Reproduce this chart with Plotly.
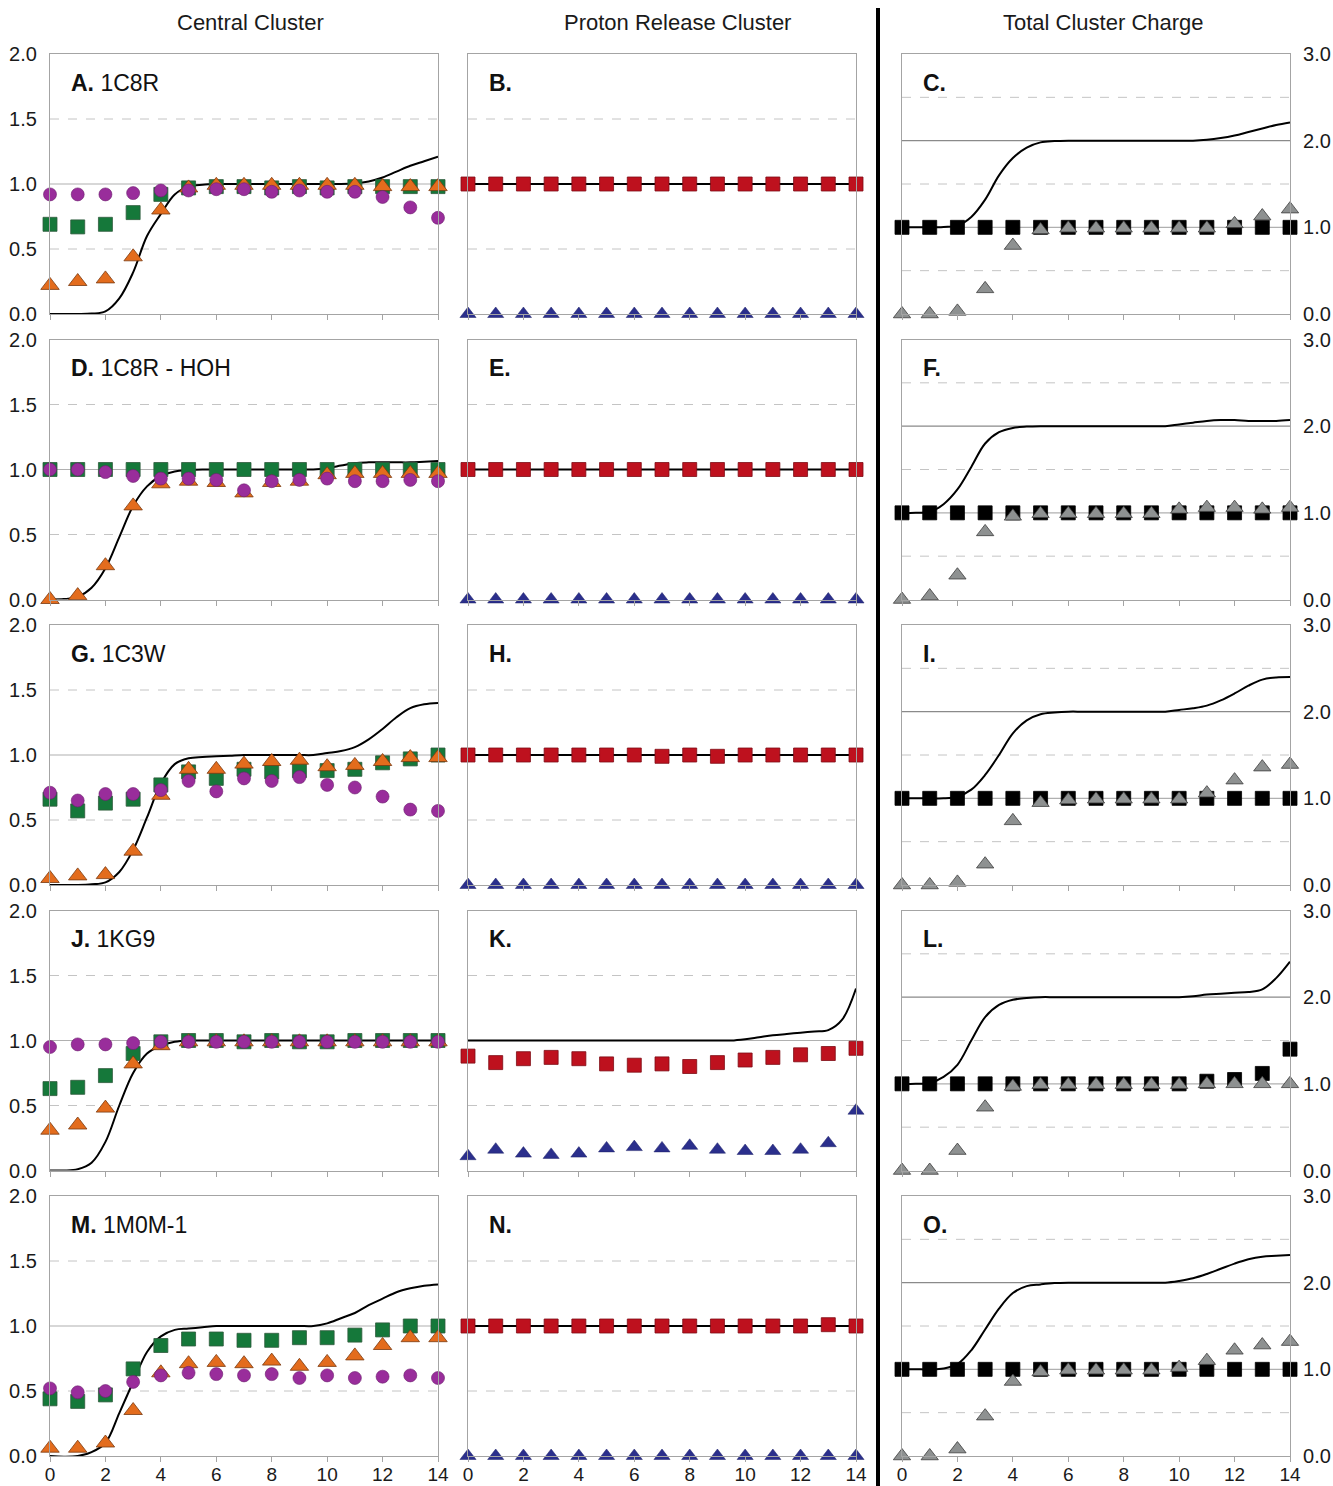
import plotly.graph_objects as go

W, H = 1333, 1486

# ---------------------------------------------------------------- data
X = list(range(15))                      # pH 0..14
XC = [i * 0.5 for i in range(29)]        # smooth-curve abscissa

# Central cluster: fraction protonated / curve = net charge
A_curve = [0.0, 0.0, 0.0, 0.003, 0.02, 0.12, 0.32, 0.6, 0.77, 0.92, 0.98, 0.995, 1.0, 1.0, 1.0,
           1.0, 1.0, 1.0, 1.0, 1.0, 1.0, 1.0, 1.005, 1.02, 1.05, 1.095, 1.14, 1.175, 1.21]
A_green = [0.69, 0.67, 0.69, 0.78, 0.92, 0.97, 0.98, 0.98, 0.97, 0.98, 0.97, 0.98, 0.98, 0.98, 0.98]
A_orange = [0.22, 0.25, 0.27, 0.44, 0.80, 0.97, 0.99, 0.99, 0.99, 0.99, 0.99, 0.99, 0.98, 0.98, 0.98]
A_purple = [0.92, 0.92, 0.92, 0.93, 0.95, 0.95, 0.96, 0.96, 0.94, 0.95, 0.94, 0.94, 0.90, 0.82, 0.74]

D_curve = [0.0, 0.003, 0.02, 0.09, 0.24, 0.48, 0.72, 0.87, 0.95, 0.985, 0.995, 1.0, 1.0, 1.0, 1.0,
           1.0, 1.0, 1.0, 1.0, 1.0, 1.01, 1.03, 1.05, 1.055, 1.055, 1.055, 1.055, 1.06, 1.065]
D_green = [1.0, 1.0, 1.0, 1.0, 1.0, 1.0, 1.0, 1.0, 1.0, 1.0, 1.0, 1.0, 1.0, 1.0, 1.0]
D_orange = [0.0, 0.03, 0.26, 0.72, 0.89, 0.91, 0.90, 0.82, 0.90, 0.91, 0.96, 0.97, 0.97, 0.97, 0.97]
D_purple = [1.0, 1.0, 0.98, 0.95, 0.93, 0.93, 0.92, 0.84, 0.91, 0.92, 0.93, 0.91, 0.91, 0.92, 0.91]

G_curve = [0.0, 0.0, 0.0, 0.005, 0.02, 0.1, 0.27, 0.52, 0.78, 0.93, 0.975, 0.985, 0.99, 0.995, 1.0,
           1.0, 1.0, 1.0, 1.0, 1.0, 1.015, 1.03, 1.06, 1.12, 1.2, 1.29, 1.36, 1.39, 1.40]
G_green = [0.66, 0.57, 0.63, 0.66, 0.77, 0.87, 0.82, 0.89, 0.87, 0.88, 0.88, 0.89, 0.94, 0.97, 1.0]
G_orange = [0.05, 0.07, 0.08, 0.26, 0.69, 0.89, 0.89, 0.93, 0.95, 0.96, 0.91, 0.92, 0.95, 0.98, 0.98]
G_purple = [0.71, 0.65, 0.70, 0.70, 0.73, 0.80, 0.72, 0.82, 0.80, 0.83, 0.77, 0.75, 0.68, 0.58, 0.57]

J_curve = [0.0, 0.0, 0.01, 0.06, 0.22, 0.5, 0.75, 0.9, 0.96, 0.99, 1.0, 1.0, 1.0, 1.0, 1.0,
           1.0, 1.0, 1.0, 1.0, 1.0, 1.0, 1.0, 1.0, 1.0, 1.0, 1.0, 1.0, 1.0, 1.0]
J_green = [0.63, 0.64, 0.73, 0.90, 0.99, 1.0, 1.0, 0.99, 1.0, 0.99, 0.99, 1.0, 1.0, 1.0, 1.0]
J_orange = [0.31, 0.35, 0.48, 0.82, 0.96, 0.99, 0.99, 0.99, 0.99, 0.99, 0.99, 0.99, 0.99, 0.99, 0.99]
J_purple = [0.95, 0.97, 0.97, 0.98, 0.99, 0.99, 0.99, 0.99, 0.99, 0.99, 0.99, 0.99, 0.99, 0.99, 0.99]

M_curve = [0.0, -0.005, 0.0, 0.03, 0.1, 0.33, 0.57, 0.8, 0.92, 0.97, 0.98, 0.99, 1.0, 1.0, 1.0,
           1.0, 1.0, 1.0, 1.0, 1.0, 1.02, 1.06, 1.1, 1.16, 1.21, 1.26, 1.29, 1.31, 1.32]
M_green = [0.44, 0.42, 0.47, 0.67, 0.85, 0.90, 0.90, 0.89, 0.89, 0.91, 0.91, 0.93, 0.97, 1.0, 1.0]
M_orange = [0.06, 0.06, 0.10, 0.35, 0.64, 0.71, 0.72, 0.71, 0.73, 0.69, 0.72, 0.77, 0.85, 0.91, 0.91]
M_purple = [0.52, 0.49, 0.50, 0.57, 0.62, 0.64, 0.63, 0.62, 0.63, 0.60, 0.62, 0.60, 0.61, 0.62, 0.60]

# Proton release cluster
B_total = [1.0] * 15
B_red = [1.0, 1.0, 1.0, 1.0, 1.0, 1.0, 1.0, 1.0, 1.0, 1.0, 1.0, 1.0, 1.0, 1.0, 1.0]
B_blue = [0.0, 0.0, 0.0, 0.0, 0.0, 0.0, 0.0, 0.0, 0.0, 0.0, 0.0, 0.0, 0.0, 0.0, 0.0]
E_total = [1.0] * 15
E_red = [1.0, 1.0, 1.0, 1.0, 1.0, 1.0, 1.0, 1.0, 1.0, 1.0, 1.0, 1.0, 1.0, 1.0, 1.0]
E_blue = [0.0, 0.0, 0.0, 0.0, 0.0, 0.0, 0.0, 0.0, 0.0, 0.0, 0.0, 0.0, 0.0, 0.0, 0.0]
H_total = [1.0] * 15
H_red = [1.0, 1.0, 1.0, 1.0, 1.0, 1.0, 1.0, 0.99, 1.0, 0.99, 1.0, 1.0, 1.0, 1.0, 1.0]
H_blue = [0.0, 0.0, 0.0, 0.0, 0.0, 0.0, 0.0, 0.0, 0.0, 0.0, 0.0, 0.0, 0.0, 0.0, 0.0]
K_total = [1.0, 1.0, 1.0, 1.0, 1.0, 1.0, 1.0, 1.0, 1.0, 1.0, 1.0, 1.0, 1.0, 1.0, 1.0,
           1.0, 1.0, 1.0, 1.0, 1.0, 1.01, 1.025, 1.04, 1.05, 1.06, 1.07, 1.08, 1.16, 1.40]
K_red = [0.88, 0.83, 0.86, 0.87, 0.86, 0.82, 0.81, 0.82, 0.80, 0.83, 0.85, 0.87, 0.89, 0.90, 0.94]
K_blue = [0.11, 0.16, 0.13, 0.12, 0.13, 0.17, 0.18, 0.17, 0.19, 0.16, 0.15, 0.15, 0.16, 0.21, 0.46]
N_total = [1.0] * 15
N_red = [1.0, 1.0, 1.0, 1.0, 1.0, 1.0, 1.0, 1.0, 1.0, 1.0, 1.0, 1.0, 1.0, 1.01, 1.0]
N_blue = [0.0, 0.0, 0.0, 0.0, 0.0, 0.0, 0.0, 0.0, 0.0, 0.0, 0.0, 0.0, 0.0, 0.0, 0.0]

# Total cluster charge
C_curve = [1.0, 1.0, 1.0, 1.005, 1.02, 1.12, 1.32, 1.6, 1.8, 1.92, 1.98, 1.995, 2.0, 2.0, 2.0,
           2.0, 2.0, 2.0, 2.0, 2.0, 2.0, 2.0, 2.01, 2.03, 2.06, 2.1, 2.14, 2.18, 2.21]
C_black = [1.0, 1.0, 1.0, 1.0, 1.0, 1.0, 1.0, 1.0, 1.0, 1.0, 1.0, 1.0, 1.0, 1.0, 1.0]
C_grey = [0.0, 0.0, 0.03, 0.29, 0.79, 0.97, 0.99, 0.99, 0.99, 0.99, 0.99, 0.99, 1.04, 1.13, 1.21]

F_curve = [1.0, 1.0, 1.01, 1.1, 1.27, 1.53, 1.8, 1.93, 1.98, 1.995, 2.0, 2.0, 2.0, 2.0, 2.0,
           2.0, 2.0, 2.0, 2.0, 2.0, 2.02, 2.04, 2.06, 2.07, 2.07, 2.06, 2.06, 2.06, 2.07]
F_black = [1.0, 1.0, 1.0, 1.0, 1.0, 1.0, 1.0, 1.0, 1.0, 1.0, 1.0, 1.0, 1.0, 1.0, 1.0]
F_grey = [0.0, 0.04, 0.28, 0.78, 0.96, 0.99, 0.99, 0.99, 0.99, 0.99, 1.04, 1.06, 1.06, 1.04, 1.06]

I_curve = [1.0, 1.0, 1.0, 1.0, 1.02, 1.1, 1.27, 1.5, 1.75, 1.9, 1.97, 1.99, 2.0, 2.0, 2.0,
           2.0, 2.0, 2.0, 2.0, 2.0, 2.02, 2.04, 2.07, 2.13, 2.21, 2.3, 2.37, 2.395, 2.40]
I_black = [1.0, 1.0, 1.0, 1.0, 1.0, 1.0, 1.0, 1.0, 1.0, 1.0, 1.0, 1.0, 1.0, 1.0, 1.0]
I_grey = [0.0, 0.0, 0.03, 0.24, 0.74, 0.95, 0.98, 0.99, 0.99, 0.99, 0.99, 1.06, 1.21, 1.36, 1.39]

L_curve = [1.0, 1.0, 1.01, 1.08, 1.22, 1.5, 1.77, 1.91, 1.97, 1.99, 2.0, 2.0, 2.0, 2.0, 2.0,
           2.0, 2.0, 2.0, 2.0, 2.0, 2.0, 2.01, 2.03, 2.04, 2.05, 2.06, 2.09, 2.22, 2.41]
L_black = [1.0, 1.0, 1.0, 1.0, 1.0, 1.0, 1.0, 1.0, 1.0, 1.0, 1.0, 1.03, 1.05, 1.12, 1.40]
L_grey = [0.0, 0.0, 0.23, 0.73, 0.97, 0.99, 0.99, 0.99, 0.99, 0.99, 0.99, 1.0, 1.0, 1.0, 1.0]

O_curve = [1.0, 1.0, 1.0, 1.01, 1.06, 1.22, 1.46, 1.7, 1.88, 1.96, 1.98, 1.995, 2.0, 2.0, 2.0,
           2.0, 2.0, 2.0, 2.0, 2.0, 2.02, 2.05, 2.1, 2.16, 2.22, 2.27, 2.3, 2.31, 2.32]
O_black = [1.0, 1.0, 1.0, 1.0, 1.0, 1.0, 1.0, 1.0, 1.0, 1.0, 1.0, 1.0, 1.0, 1.0, 1.0]
O_grey = [0.0, 0.0, 0.08, 0.46, 0.86, 0.97, 0.99, 0.99, 0.99, 0.99, 1.02, 1.10, 1.22, 1.28, 1.32]

PANEL_LETTERS = ["A.", "B.", "C.", "D.", "E.", "F.", "G.", "H.", "I.",
                 "J.", "K.", "L.", "M.", "N.", "O."]
STRUCTURES = ["1C8R", "1C8R - HOH", "1C3W", "1KG9", "1M0M-1"]
COLUMN_TITLES = ["Central Cluster", "Proton Release Cluster", "Total Cluster Charge"]
LEFT_TICKS = [0.0, 0.5, 1.0, 1.5, 2.0]
RIGHT_TICKS = [0.0, 1.0, 2.0, 3.0]
X_TICKS = [0, 2, 4, 6, 8, 10, 12, 14]

central = [
    (A_curve, A_green, A_orange, A_purple),
    (D_curve, D_green, D_orange, D_purple),
    (G_curve, G_green, G_orange, G_purple),
    (J_curve, J_green, J_orange, J_purple),
    (M_curve, M_green, M_orange, M_purple),
]
release = [
    (X, B_total, B_red, B_blue),
    (X, E_total, E_red, E_blue),
    (X, H_total, H_red, H_blue),
    (XC, K_total, K_red, K_blue),
    (X, N_total, N_red, N_blue),
]
total = [
    (C_curve, C_black, C_grey),
    (F_curve, F_black, F_grey),
    (I_curve, I_black, I_grey),
    (L_curve, L_black, L_grey),
    (O_curve, O_black, O_grey),
]

# ---------------------------------------------------------------- styling
FONT = "Liberation Sans, Arial, sans-serif"
GREEN, ORANGE, PURPLE = "#15783a", "#e36c1d", "#992d9b"
RED, BLUE = "#be111e", "#2b2f8c"
GREY_TRI = "#8e9191"
AXIS_GREY = "#a4a4a4"
GRID_DASH = "#c4c4c4"

COL_PX = [(50, 438), (468, 856), (902, 1290)]
TITLE_CX = [250, 677, 1103]
ROW_TOP = [54, 339.5, 625, 910.5, 1196]
ROW_H = 260

fig = go.Figure()
layout = dict(
    width=W, height=H,
    margin=dict(l=0, r=0, t=0, b=0),
    paper_bgcolor="white", plot_bgcolor="white",
    showlegend=False, template="none",
    font=dict(family=FONT, size=19, color="#1a1a1a"),
)
shapes, annotations = [], []


def ax_id(k):
    return "" if k == 1 else str(k)


def marker(symbol, size, color, line_color, lw=0.8):
    return dict(symbol=symbol, size=size, color=color, line=dict(color=line_color, width=lw))


for r in range(5):
    for c in range(3):
        k = r * 3 + c + 1
        xa, ya = "x" + ax_id(k), "y" + ax_id(k)
        x0p, x1p = COL_PX[c]
        top = ROW_TOP[r]
        xdom = [x0p / W, x1p / W]
        ydom = [1 - (top + ROW_H) / H, 1 - top / H]
        ymax = 3.0 if c == 2 else 2.0

        layout["xaxis" + ax_id(k)] = dict(
            domain=xdom, anchor=ya, range=[0, 14], tickvals=X_TICKS,
            ticks="outside", ticklen=5, tickcolor=AXIS_GREY, tickwidth=1,
            showticklabels=(r == 4), tickfont=dict(size=19), ticklabelstandoff=-4,
            showline=True, linecolor=AXIS_GREY, linewidth=1.2, mirror=True,
            showgrid=False, zeroline=False, automargin=False, fixedrange=True,
        )
        ydict = dict(
            domain=ydom, anchor=xa, range=[0, ymax],
            showline=True, linecolor=AXIS_GREY, linewidth=1.2, mirror=True,
            showgrid=False, zeroline=False, automargin=False, ticks="",
            tickfont=dict(size=20),
        )
        if c == 0:
            ydict.update(tickvals=LEFT_TICKS, ticktext=[f"{v:.1f}" for v in LEFT_TICKS],
                         showticklabels=True, ticklabelstandoff=8)
        elif c == 1:
            ydict.update(showticklabels=False)
        else:
            ydict.update(side="right", tickvals=RIGHT_TICKS,
                         ticktext=[f"{v:.1f}" for v in RIGHT_TICKS],
                         showticklabels=True, ticklabelstandoff=8)
        layout["yaxis" + ax_id(k)] = ydict

        # horizontal reference lines
        dashed = [0.5, 1.5, 2.5] if c == 2 else [0.5, 1.5]
        solid = [1.0, 2.0] if c == 2 else [1.0]
        for v in dashed:
            shapes.append(dict(type="line", xref=xa + " domain", yref=ya, x0=0, x1=1, y0=v, y1=v,
                               line=dict(color=GRID_DASH, width=1, dash="dash"), layer="below"))
        for v in solid:
            shapes.append(dict(type="line", xref=xa + " domain", yref=ya, x0=0, x1=1, y0=v, y1=v,
                               line=dict(color="#8a8a8a" if v == 2.0 else "#b0b0b0", width=1.2),
                               layer="below"))

        # panel letter + structure name
        label = f"<b>{PANEL_LETTERS[k - 1]}</b>"
        if c == 0:
            label += " " + STRUCTURES[r]
        annotations.append(dict(text=label, xref=xa + " domain", yref=ya + " domain",
                                x=0.05, y=0.89, xanchor="left", yanchor="middle",
                                showarrow=False, font=dict(size=23, color="#111")))

        # traces
        if c == 0:
            curve, green, orange, purple = central[r]
            fig.add_trace(go.Scatter(x=XC, y=curve, mode="lines", xaxis=xa, yaxis=ya,
                                     line=dict(color="black", width=2, shape="spline", smoothing=1.0),
                                     cliponaxis=False))
            fig.add_trace(go.Scatter(x=X, y=green, mode="markers", xaxis=xa, yaxis=ya,
                                     marker=marker("square", 14, GREEN, "#2f5a3c"), cliponaxis=False))
            fig.add_trace(go.Scatter(x=X, y=orange, mode="markers", xaxis=xa, yaxis=ya,
                                     marker=marker("triangle-up", 16, ORANGE, "#7a3a10"), cliponaxis=False))
            fig.add_trace(go.Scatter(x=X, y=purple, mode="markers", xaxis=xa, yaxis=ya,
                                     marker=marker("circle", 13, PURPLE, "#6b1f6d", 0.6), cliponaxis=False))
        elif c == 1:
            xt, tot, red, blue = release[r]
            fig.add_trace(go.Scatter(x=xt, y=tot, mode="lines", xaxis=xa, yaxis=ya,
                                     line=dict(color="black", width=2, shape="spline", smoothing=1.0),
                                     cliponaxis=False))
            fig.add_trace(go.Scatter(x=X, y=red, mode="markers", xaxis=xa, yaxis=ya,
                                     marker=marker("square", 14, RED, "#7d0b14"), cliponaxis=False))
            fig.add_trace(go.Scatter(x=X, y=blue, mode="markers", xaxis=xa, yaxis=ya,
                                     marker=marker("triangle-up", 14, BLUE, "#1d2066", 0.5),
                                     cliponaxis=False))
        else:
            curve, black, grey = total[r]
            fig.add_trace(go.Scatter(x=XC, y=curve, mode="lines", xaxis=xa, yaxis=ya,
                                     line=dict(color="black", width=2, shape="spline", smoothing=1.0),
                                     cliponaxis=False))
            fig.add_trace(go.Scatter(x=X, y=black, mode="markers", xaxis=xa, yaxis=ya,
                                     marker=marker("square", 14, "black", "black"), cliponaxis=False))
            fig.add_trace(go.Scatter(x=X, y=grey, mode="markers", xaxis=xa, yaxis=ya,
                                     marker=marker("triangle-up", 15, GREY_TRI, "#3c3c3c", 0.8),
                                     cliponaxis=False))

# column titles
for c, title in enumerate(COLUMN_TITLES):
    annotations.append(dict(text=title, xref="paper", yref="paper", x=TITLE_CX[c] / W, y=1 - 22 / H,
                            xanchor="center", yanchor="middle", showarrow=False,
                            font=dict(size=22, color="#1a1a1a")))

# heavy divider between the cluster panels and the total charge panels
shapes.append(dict(type="line", xref="paper", yref="paper", x0=878 / W, x1=878 / W,
                   y0=0, y1=1 - 8 / H, line=dict(color="black", width=4)))

layout["shapes"] = shapes
layout["annotations"] = annotations
fig.update_layout(**layout)
fig.write_html("out.html")
